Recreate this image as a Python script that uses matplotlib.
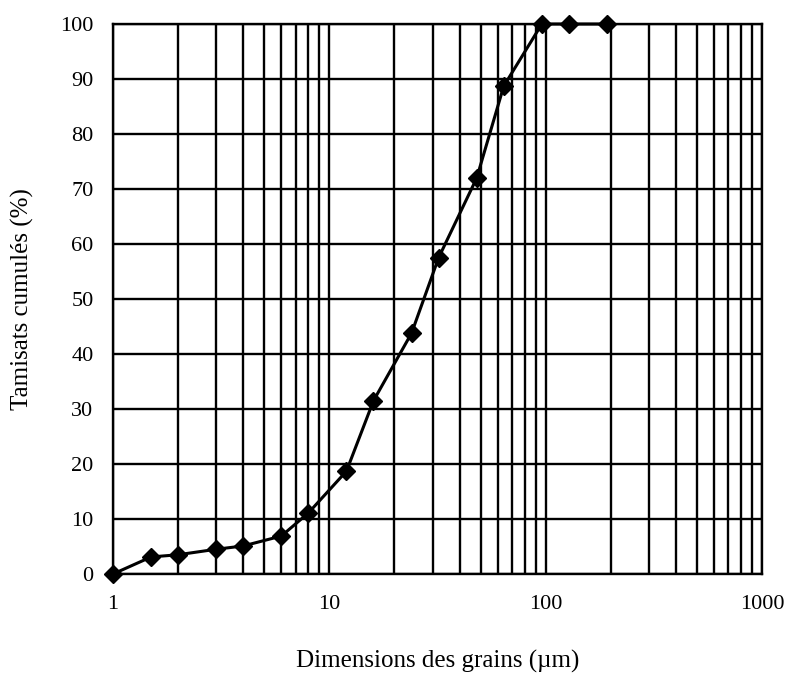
import matplotlib
matplotlib.use("Agg")
import matplotlib.pyplot as plt
from matplotlib.ticker import LogLocator, FixedLocator, FixedFormatter, NullFormatter

plt.rcParams['font.family'] = ['Liberation Serif', 'DejaVu Serif']

grain_size = [1, 1.5, 2, 3, 4, 6, 8, 12, 16, 24, 32, 48, 64, 96, 128, 192]
cumulative = [0, 3.1, 3.5, 4.5, 5.1, 6.9, 11.1, 18.7, 31.5, 43.8, 57.5, 72, 88.7, 100, 100, 100]
x_ticks = [1, 10, 100, 1000]
x_tick_labels = ["1", "10", "100", "1000"]
y_ticks = list(range(0, 101, 10))

fig = plt.figure(figsize=(7.9, 6.74), dpi=100)
ax = fig.add_axes([113/790, 1-574/674, (762-113)/790, (574-24)/674])

ax.set_xscale('log')
ax.set_xlim(1, 1000)
ax.set_ylim(0, 100)

ax.xaxis.set_major_locator(FixedLocator(x_ticks))
ax.xaxis.set_major_formatter(FixedFormatter(x_tick_labels))
ax.xaxis.set_minor_locator(LogLocator(base=10, subs=range(2, 10)))
ax.xaxis.set_minor_formatter(NullFormatter())
ax.set_yticks(y_ticks)

ax.grid(True, which='both', axis='x', color='black', linewidth=1.7)
ax.grid(True, which='major', axis='y', color='black', linewidth=1.7)
ax.set_axisbelow(True)

ax.plot(grain_size, cumulative, color='black', linewidth=2.2, marker='D',
        markersize=9, markerfacecolor='black', markeredgecolor='black', clip_on=False, zorder=5)

for s in ax.spines.values():
    s.set_linewidth(1.7)
    s.set_color('black')

ax.tick_params(which='both', length=0, labelsize=16)
ax.tick_params(axis='x', pad=15)
ax.tick_params(axis='y', pad=14)
ax.set_xlabel("Dimensions des grains (µm)", fontsize=18, labelpad=26)
ax.set_ylabel("Tamisats cumulés (%)", fontsize=18, labelpad=19)

fig.savefig("out.png", dpi=100)
